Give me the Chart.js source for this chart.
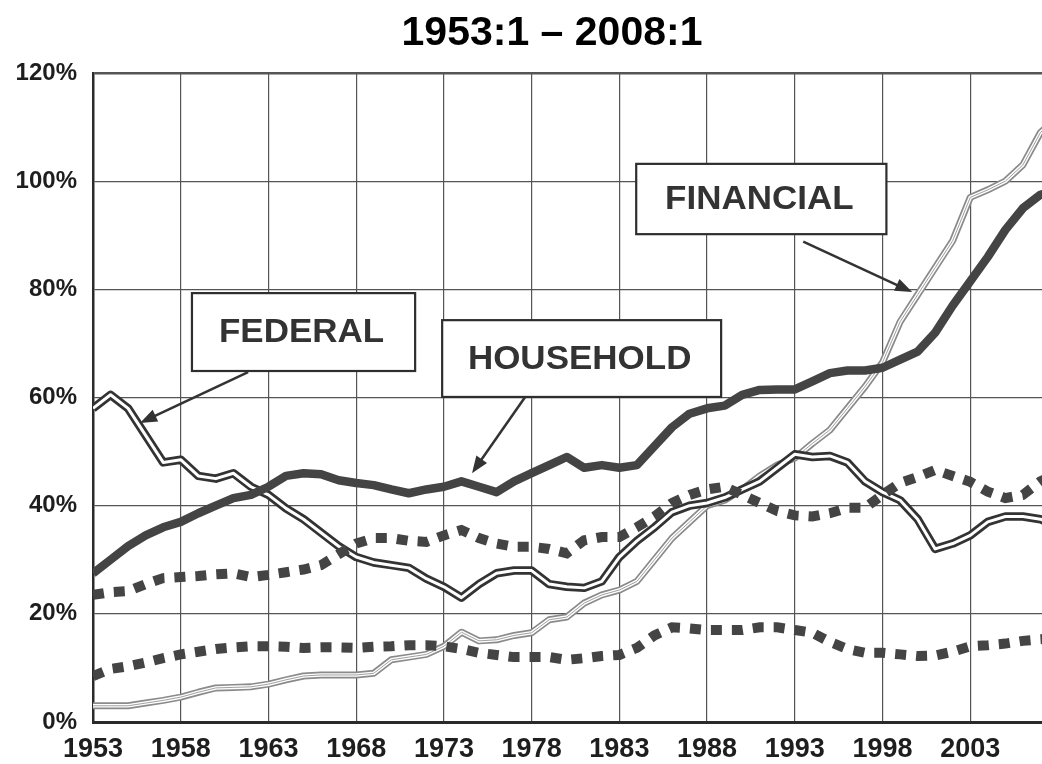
<!DOCTYPE html>
<html>
<head>
<meta charset="utf-8">
<script src="https://cdn.jsdelivr.net/npm/chart.js@4.4.0/dist/chart.umd.min.js"></script>
<style>
  html, body { margin: 0; padding: 0; overflow: hidden; background: #fff; }
  #wrap { position: absolute; left: 0; top: 0; width: 1110px; height: 764px; }
</style>
</head>
<body>
<div id="wrap"><canvas id="debtChart" width="1110" height="764"></canvas></div>
<script>
// Sector debt as % of GDP, 1953:1 - 2008:1 (one point per year)
const years = [1953, 1954, 1955, 1956, 1957, 1958, 1959, 1960, 1961, 1962,
  1963, 1964, 1965, 1966, 1967, 1968, 1969, 1970, 1971, 1972,
  1973, 1974, 1975, 1976, 1977, 1978, 1979, 1980, 1981, 1982,
  1983, 1984, 1985, 1986, 1987, 1988, 1989, 1990, 1991, 1992,
  1993, 1994, 1995, 1996, 1997, 1998, 1999, 2000, 2001, 2002,
  2003, 2004, 2005, 2006, 2007, 2008];

const federal = [58, 60.5, 58, 53, 48, 48.5, 45.5, 45, 46, 43.5,
  42, 39.5, 37.5, 35, 32.5, 30.5, 29.5, 29, 28.5, 26.5,
  25, 23, 25.5, 27.5, 28, 28, 25.5, 25, 24.8, 26,
  30.5, 33.5, 36, 38.8, 40, 40.5, 41.5, 43, 44.5, 47,
  49.5, 49, 49.2, 48, 44.5, 42.5, 41, 37.5, 32, 33,
  34.5, 37, 38, 38, 37.5, 36];

const household = [27.5, 30, 32.5, 34.5, 36, 37, 38.6, 40, 41.4, 42,
  43.5, 45.5, 46, 45.8, 44.7, 44.2, 43.8, 43, 42.3, 43,
  43.5, 44.5, 43.5, 42.5, 44.5, 46, 47.5, 49, 47, 47.5,
  47, 47.5, 51, 54.5, 57, 58, 58.5, 60.5, 61.4, 61.5,
  61.5, 63, 64.5, 65, 65, 65.5, 67, 68.5, 72, 77,
  81.5, 86, 91, 95, 97.5, 98.5];

const financial = [3, 3, 3, 3.5, 4, 4.6, 5.5, 6.3, 6.4, 6.5,
  7, 7.8, 8.5, 8.7, 8.7, 8.7, 9, 11.5, 12, 12.5,
  14, 16.6, 15, 15.2, 16, 16.5, 18.9, 19.4, 22, 23.5,
  24.4, 26, 30, 34, 37, 40, 41, 43, 45.5, 47.5,
  48.8, 51.5, 54, 58, 62, 66.5, 74, 79, 84, 89,
  97, 98.4, 100, 103, 109, 112];

const business = [23.5, 24, 24.2, 25.5, 26.6, 26.8, 27, 27.3, 27.5, 26.8,
  27.2, 27.7, 28.2, 29, 31, 33, 34, 34, 33.5, 33.3,
  34.5, 35.5, 34, 33, 32.4, 32.4, 32, 31.2, 33.6, 34.2,
  34.2, 36, 38, 40.5, 42, 43, 43.5, 42, 40.5, 39,
  38.2, 38, 38.6, 39.6, 39.6, 42, 44.2, 45.3, 46.6, 45.5,
  44.4, 42.6, 41.4, 42, 44.5, 46];

const stateLocal = [8.5, 9.8, 10.3, 11, 11.8, 12.5, 13, 13.5, 13.8, 14,
  14, 13.9, 13.7, 13.8, 13.8, 13.7, 13.9, 14, 14.2, 14.2,
  14, 13.5, 12.8, 12.4, 12, 12, 12, 11.5, 11.8, 12.2,
  12.4, 13.7, 16, 17.5, 17.3, 17, 17, 17, 17.5, 17.5,
  17, 16.5, 14.8, 13.5, 12.8, 12.8, 12.5, 12.2, 12.3, 13,
  14, 14.2, 14.5, 15, 15.3, 15.5];

const xTicks = [1953, 1958, 1963, 1968, 1973, 1978, 1983, 1988, 1993, 1998, 2003, 2008];
const xTickLabels = ['1953', '1958', '1963', '1968', '1973', '1978', '1983', '1988', '1993', '1998', '2003', ''];
const yTicks = [0, 20, 40, 60, 80, 100, 120];
const chartTitle = '1953:1 \u2013 2008:1';

// callout boxes and arrows, in data units (year, percent)
const callouts = [
  { text: 'FEDERAL',   box: [1958.64, 79.3, 1971.36, 64.9], from: [1961.84, 64.7], to: [1955.68, 55.3] },
  { text: 'HOUSEHOLD', box: [1972.9, 74.3, 1988.8, 60.1],   from: [1977.63, 60.1], to: [1974.6, 46.0] },
  { text: 'FINANCIAL', box: [1983.96, 103.2, 1998.22, 90.2], from: [1993.48, 88.8], to: [1999.69, 79.5] }
];

function series(values) {
  return values.map((v, i) => ({ x: years[i], y: v }));
}

const calloutPlugin = {
  id: 'callouts',
  afterDraw(chart) {
    const { ctx, scales: { x, y } } = chart;
    ctx.save();

    // title
    ctx.fillStyle = '#000';
    ctx.font = 'bold 41px "Liberation Sans", Arial, sans-serif';
    ctx.textAlign = 'center';
    ctx.textBaseline = 'alphabetic';
    ctx.fillText(chartTitle, 552, 45);

    callouts.forEach(c => {
      const x0 = x.getPixelForValue(c.box[0]);
      const y0 = y.getPixelForValue(c.box[1]);
      const x1 = x.getPixelForValue(c.box[2]);
      const y1 = y.getPixelForValue(c.box[3]);
      ctx.fillStyle = '#fff';
      ctx.fillRect(x0, y0, x1 - x0, y1 - y0);
      ctx.lineWidth = 2.2;
      ctx.strokeStyle = '#2e2e2e';
      ctx.strokeRect(x0, y0, x1 - x0, y1 - y0);

      // label, slightly stretched like the scan
      ctx.save();
      ctx.translate((x0 + x1) / 2 - 2, (y0 + y1) / 2 + 4);
      ctx.scale(1.06, 1);
      ctx.fillStyle = '#333';
      ctx.font = 'bold 33px "Liberation Sans", Arial, sans-serif';
      ctx.textAlign = 'center';
      ctx.textBaseline = 'alphabetic';
      ctx.fillText(c.text, 0, 6);
      ctx.restore();

      // arrow
      const ax = x.getPixelForValue(c.from[0]);
      const ay = y.getPixelForValue(c.from[1]);
      const bx = x.getPixelForValue(c.to[0]);
      const by = y.getPixelForValue(c.to[1]);
      const ang = Math.atan2(by - ay, bx - ax);
      const head = 17;
      ctx.strokeStyle = '#333';
      ctx.lineWidth = 2.5;
      ctx.beginPath();
      ctx.moveTo(ax, ay);
      ctx.lineTo(bx - Math.cos(ang) * head * 0.8, by - Math.sin(ang) * head * 0.8);
      ctx.stroke();
      ctx.fillStyle = '#333';
      ctx.beginPath();
      ctx.moveTo(bx, by);
      ctx.lineTo(bx - head * Math.cos(ang) + 6.5 * Math.sin(ang), by - head * Math.sin(ang) - 6.5 * Math.cos(ang));
      ctx.lineTo(bx - head * Math.cos(ang) - 6.5 * Math.sin(ang), by - head * Math.sin(ang) + 6.5 * Math.cos(ang));
      ctx.closePath();
      ctx.fill();
    });
    ctx.restore();
  }
};

Chart.defaults.font.family = '"Liberation Sans", Arial, sans-serif';

const lineBase = { pointRadius: 0, pointHoverRadius: 0, tension: 0, fill: false, borderJoinStyle: 'round' };

const ctx = document.getElementById('debtChart').getContext('2d');
const debtChart = new Chart(ctx, {
  type: 'line',
  data: {
    datasets: [
      // dotted sectors on top
      { ...lineBase, label: 'Business', data: series(business), borderColor: '#444', borderWidth: 10,
        borderDash: [11, 10], borderCapStyle: 'butt', borderJoinStyle: 'miter', order: 1 },
      { ...lineBase, label: 'State & local', data: series(stateLocal), borderColor: '#444', borderWidth: 10,
        borderDash: [11, 10], borderCapStyle: 'butt', borderJoinStyle: 'miter', order: 1 },
      // household, thick solid
      { ...lineBase, label: 'Household', data: series(household), borderColor: '#444', borderWidth: 8.5, order: 2 },
      // federal, dark double line
      { ...lineBase, label: 'Federal', data: series(federal), borderColor: '#fff', borderWidth: 3, order: 3 },
      { ...lineBase, label: 'Federal edge', data: series(federal), borderColor: '#333', borderWidth: 8.5, order: 4 },
      // financial, light hatched line
      { ...lineBase, label: 'Financial core', data: series(financial), borderColor: '#a0a0a0', borderWidth: 1, order: 5 },
      { ...lineBase, label: 'Financial', data: series(financial), borderColor: '#fff', borderWidth: 3.6, order: 6 },
      { ...lineBase, label: 'Financial edge', data: series(financial), borderColor: '#8a8a8a', borderWidth: 7, order: 7 }
    ]
  },
  options: {
    responsive: false,
    animation: false,
    devicePixelRatio: 1,
    layout: { padding: { left: 0, right: 52, top: 73, bottom: 0 } },
    plugins: {
      legend: { display: false },
      title: { display: false },
      tooltip: { enabled: false }
    },
    scales: {
      x: {
        type: 'linear',
        min: 1953,
        max: 2008,
        afterFit: scale => { scale.height = 42; },
        afterBuildTicks: scale => { scale.ticks = xTicks.map(v => ({ value: v })); },
        ticks: {
          autoSkip: false,
          maxRotation: 0,
          padding: 11,
          color: '#1e1e1e',
          font: { size: 27, weight: 'bold' },
          callback: (v, i) => xTickLabels[i]
        },
        grid: { color: '#555', lineWidth: 1.2, drawTicks: false },
        border: { display: true, color: '#2a2a2a', width: 3 }
      },
      y: {
        min: 0,
        max: 120,
        afterFit: scale => { scale.width = 93; },
        afterBuildTicks: scale => { scale.ticks = yTicks.map(v => ({ value: v })); },
        ticks: {
          padding: 16,
          color: '#1e1e1e',
          font: { size: 24, weight: 'bold' },
          callback: v => v + '%'
        },
        grid: {
          color: '#555',
          lineWidth: c => (c.tick && c.tick.value === 120 ? 2.5 : 1.2),
          drawTicks: false
        },
        border: { display: true, color: '#2a2a2a', width: 2.5 }
      }
    }
  },
  plugins: [calloutPlugin]
});
</script>
</body>
</html>
